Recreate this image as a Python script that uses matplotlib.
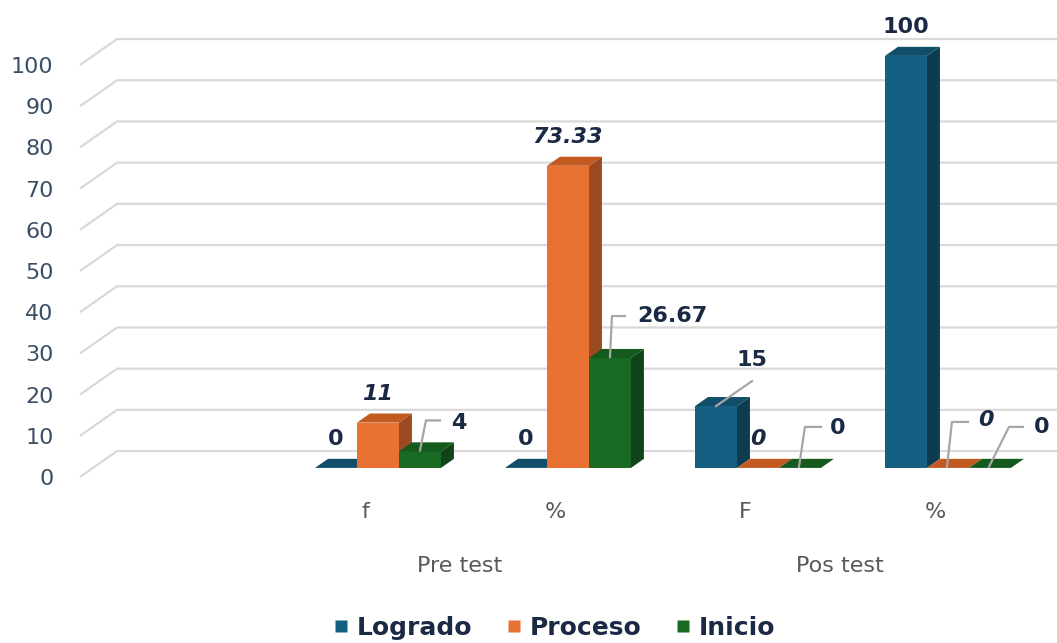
import numpy as np
import matplotlib.pyplot as plt
from matplotlib.patches import Polygon
from matplotlib.lines import Line2D

# data
groups = ["Pre test", "Pos test"]
categories = ["f", "%", "F", "%"]
series = ["Logrado", "Proceso", "Inicio"]
logrado = [0, 0, 15, 100]
proceso = [11, 73.33, 0, 0]
inicio = [4, 26.67, 0, 0]
labels = [["0", "0", "15", "100"],
          ["11", "73.33", "0", "0"],
          ["4", "26.67", "0", "0"]]

# colours: front, top, side
face = {"Logrado": ("#156082", "#114e6a", "#0d3b4f"),
        "Proceso": ("#E97132", "#c25a22", "#9c4a1f"),
        "Inicio": ("#196B24", "#145a1d", "#10431a")}
grid_col = "#D9D9D9"
tick_col = "#3A4F66"
lab_col = "#1B2A44"

# 3d look
DX, DY = 0.195, 6.3        # full floor depth in data units
bar_front = 0.35           # bars start at this share of the depth
bar_depth = 0.35
w = 0.221                  # bar width (category units)

fig = plt.figure(figsize=(10.57, 6.43), dpi=100)
ax = fig.add_axes([80 / 1057, 166 / 643, 977 / 1057, 477 / 643])
xmin, xmax = -0.5, -0.5 + 977 / 190
ax.set_xlim(xmin, xmax)
ax.set_ylim(0, 477 / 4.12)
for s in ax.spines.values():
    s.set_visible(False)

# back wall grid lines with slanted floor part
for v in range(0, 101, 10):
    ax.plot([xmin, xmin + DX, xmax], [v, v + DY, v + DY], color=grid_col, lw=1.6,
            zorder=1, clip_on=False, solid_capstyle="butt")

ax.set_yticks(range(0, 101, 10))
ax.set_yticklabels([str(v) for v in range(0, 101, 10)], fontsize=16, color=tick_col)
ax.tick_params(axis="y", length=0, pad=19)
xpos = np.arange(1, len(categories) + 1)
ax.set_xticks(xpos)
ax.set_xticklabels(categories, fontsize=16, color="#595959")
ax.tick_params(axis="x", length=0, pad=18)

for k, g in enumerate(groups):
    ax.annotate(g, xy=(xpos[2 * k:2 * k + 2].mean(), 0), xycoords=("data", "axes fraction"),
                xytext=(0, -64), textcoords="offset points", ha="center", va="center",
                fontsize=16, color="#595959")

# label offsets in pixels (x right, y down) and leader lines
lab_off = {(0, 2): (39, -28), (1, 2): (62, -42), (2, 0): (36, -46),
           (2, 2): (38, -40), (3, 1): (38, -48), (3, 2): (52, -41)}
leaders = {(0, 2): [(0, -1), (6, -31), (20, -31)],
           (1, 2): [(0, -1), (2, -42), (15, -42)],
           (2, 0): [(0, 0), (36, -25)],
           (2, 2): [(-1, -1), (5, -41), (21, -41)],
           (3, 1): [(-1, -1), (4, -46), (20, -46)],
           (3, 2): [(-1, -1), (19, -41), (33, -41)]}

values = [logrado, proceso, inicio]
base = bar_front * DY
ddx, ddy = bar_depth * DX, bar_depth * DY
anchors = {}
z = 3
for i, c in enumerate(xpos):
    for j, name in enumerate(series):
        v = values[j][i]
        x0 = c + bar_front * DX - 1.5 * w + j * w
        x1 = x0 + w
        top = base + v
        fc, tc, sc = face[name]
        if v > 0:
            ax.add_patch(Polygon([(x1, base), (x1 + ddx, base + ddy), (x1 + ddx, top + ddy), (x1, top)],
                                 closed=True, fc=sc, ec="none", zorder=z))
            ax.add_patch(Polygon([(x0, base), (x1, base), (x1, top), (x0, top)],
                                 closed=True, fc=fc, ec="none", zorder=z))
        ax.add_patch(Polygon([(x0, top), (x1, top), (x1 + ddx, top + ddy), (x0 + ddx, top + ddy)],
                             closed=True, fc=tc, ec="none", zorder=z))
        z += 1
        anchors[(i, j)] = (x0 + w / 2, top)

fig.canvas.draw()
for (i, j), (ax_, ay_) in anchors.items():
    ox, oy = lab_off.get((i, j), (0, -29))
    style = "italic" if series[j] == "Proceso" else "normal"
    ax.annotate(labels[j][i], xy=(ax_, ay_), xytext=(ox * 0.72, -oy * 0.72),
                textcoords="offset points", ha="center", va="center", fontsize=16,
                fontweight="bold", fontstyle=style, color=lab_col, zorder=20)
    if (i, j) in leaders:
        px, py = ax.transData.transform((ax_, ay_))
        pts = np.array([(px + dx, py - dy) for dx, dy in leaders[(i, j)]])
        fig.add_artist(Line2D(pts[:, 0], pts[:, 1], transform=None, color="#A6A6A6",
                              lw=1.6, zorder=20))

handles = [Line2D([], [], marker="s", ls="none", ms=9, mfc=face[n][0], mec="none") for n in series]
leg = fig.legend(handles, series, loc="center", bbox_to_anchor=(0.524, 1 - 628 / 643), ncol=3,
                 frameon=False, handlelength=0.7, handletextpad=0.3, columnspacing=1.3,
                 prop={"size": 18, "weight": "bold"})
for t in leg.get_texts():
    t.set_color(lab_col)

fig.savefig("out.png", dpi=100)
